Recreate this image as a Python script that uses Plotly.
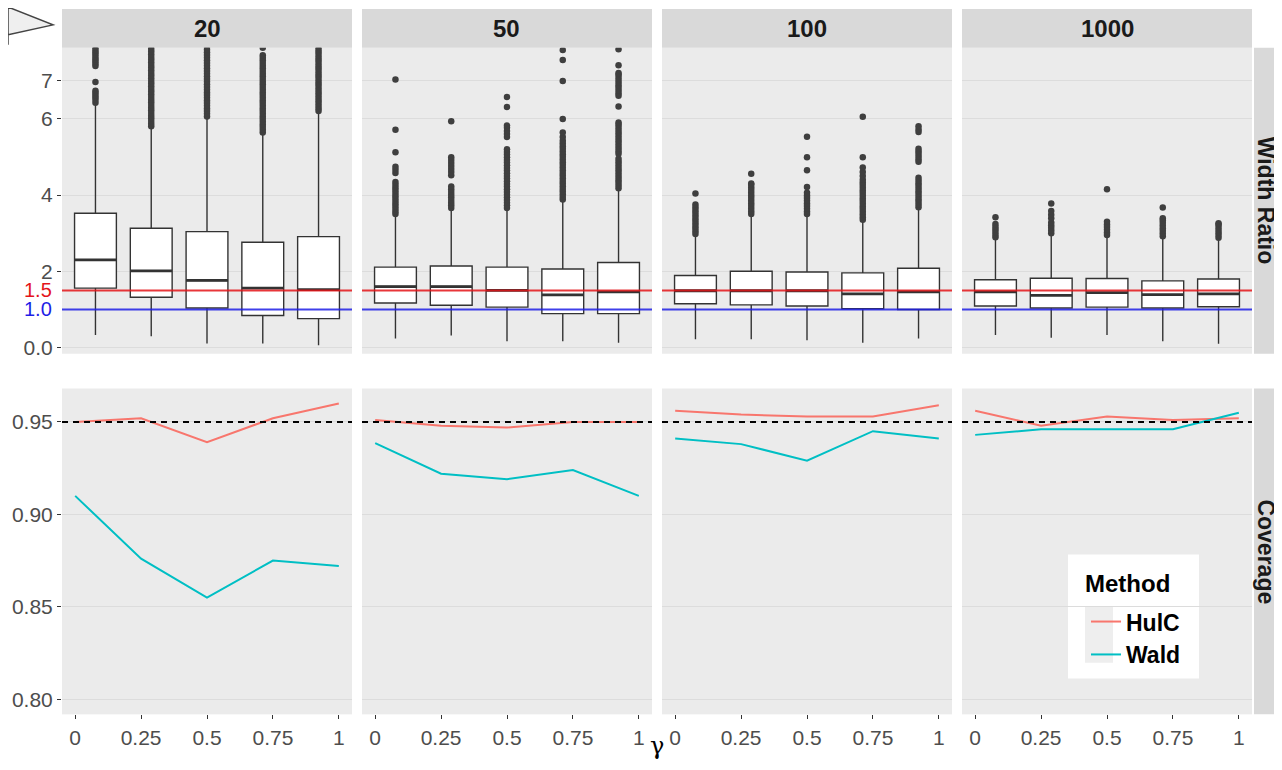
import plotly.graph_objects as go

# page is rendered with an 8px body margin; figure spans page pixels 8..1282 x 8..770
OFF = 8
W, H = 1282 - OFF, 770 - OFF

# ---------------- data ----------------
sample_sizes = ["20", "50", "100", "1000"]
gamma_values = [0, 0.25, 0.5, 0.75, 1]
gamma_labels = ["0", "0.25", "0.5", "0.75", "1"]
box_positions = [0, 1, 2, 3, 4]

# Width-ratio boxplot statistics, one row per sample size, one value per gamma
wr_lower = [[0.33, 0.30, 0.11, 0.11, 0.06],
            [0.24, 0.32, 0.17, 0.17, 0.13],
            [0.22, 0.22, 0.19, 0.13, 0.24],
            [0.33, 0.26, 0.33, 0.17, 0.10]]
wr_q1 = [[1.56, 1.32, 1.04, 0.84, 0.76],
         [1.17, 1.11, 1.06, 0.89, 0.89],
         [1.15, 1.12, 1.09, 1.02, 1.00],
         [1.09, 1.04, 1.06, 1.04, 1.07]]
wr_median = [[2.30, 2.01, 1.76, 1.56, 1.52],
             [1.60, 1.60, 1.50, 1.38, 1.46],
             [1.49, 1.49, 1.49, 1.41, 1.46],
             [1.46, 1.37, 1.44, 1.39, 1.41]]
wr_q3 = [[3.52, 3.13, 3.04, 2.76, 2.91],
         [2.11, 2.14, 2.11, 2.06, 2.23],
         [1.89, 2.00, 1.98, 1.96, 2.08],
         [1.78, 1.82, 1.81, 1.75, 1.80]]
wr_upper = [[6.40, 5.78, 6.04, 5.62, 6.18],
            [3.47, 3.65, 3.65, 3.86, 4.17],
            [2.97, 3.49, 3.49, 3.34, 3.67],
            [2.88, 3.00, 2.94, 2.91, 2.87]]

outliers_n20 = [
    [6.42, 6.5, 6.56, 6.62, 6.68, 6.73, 6.96, 7.38, 7.44, 7.5, 7.56, 7.62, 7.68, 7.74, 7.8, 7.86, 7.92],
    [5.8, 5.87, 5.94, 6.01, 6.08, 6.15, 6.22, 6.29, 6.36, 6.43, 6.5, 6.57, 6.64, 6.71, 6.78, 6.85, 6.92,
     6.99, 7.06, 7.13, 7.2, 7.27, 7.34, 7.41, 7.48, 7.55, 7.62, 7.69, 7.76, 7.83, 7.9],
    [6.06, 6.13, 6.2, 6.27, 6.34, 6.41, 6.48, 6.55, 6.62, 6.69, 6.76, 6.83, 6.9, 6.97, 7.04, 7.11, 7.18,
     7.25, 7.32, 7.39, 7.46, 7.53, 7.6, 7.67, 7.74, 7.81, 7.88],
    [5.64, 5.71, 5.78, 5.85, 5.92, 5.99, 6.06, 6.13, 6.2, 6.27, 6.34, 6.41, 6.48, 6.55, 6.62, 6.69, 6.76,
     6.83, 6.9, 6.97, 7.04, 7.11, 7.18, 7.25, 7.32, 7.39, 7.46, 7.53, 7.6, 7.66, 7.86],
    [6.2, 6.27, 6.34, 6.41, 6.48, 6.55, 6.62, 6.69, 6.76, 6.83, 6.9, 6.97, 7.04, 7.11, 7.18, 7.25, 7.32,
     7.39, 7.46, 7.53, 7.6, 7.67, 7.74, 7.81, 7.88],
]
outliers_n50 = [
    [3.5, 3.57, 3.64, 3.71, 3.78, 3.85, 3.92, 3.99, 4.06, 4.13, 4.2, 4.27, 4.34, 4.58, 4.66, 4.74, 5.12, 5.71, 7.03],
    [3.66, 3.73, 3.8, 3.87, 3.94, 4.01, 4.08, 4.15, 4.22, 4.52, 4.6, 4.68, 4.76, 4.84, 4.92, 4.99, 5.93],
    [3.66, 3.73, 3.8, 3.87, 3.94, 4.01, 4.08, 4.15, 4.22, 4.29, 4.36, 4.43, 4.5, 4.57, 4.64, 4.71, 4.78,
     4.85, 4.92, 4.99, 5.06, 5.13, 5.2, 5.52, 5.6, 5.68, 5.76, 5.82, 6.31, 6.57],
    [3.88, 3.95, 4.02, 4.09, 4.16, 4.23, 4.3, 4.37, 4.44, 4.51, 4.58, 4.65, 4.72, 4.79, 4.86, 4.93, 5.0,
     5.07, 5.14, 5.21, 5.28, 5.35, 5.42, 5.52, 5.64, 5.99, 6.99, 7.54, 7.8],
    [4.18, 4.25, 4.32, 4.39, 4.46, 4.53, 4.6, 4.67, 4.74, 4.81, 4.88, 4.95, 5.08, 5.15, 5.22, 5.29, 5.36,
     5.43, 5.5, 5.57, 5.64, 5.71, 5.78, 5.85, 5.9, 6.32, 6.6, 6.67, 6.74, 6.81, 6.88, 6.95, 7.02, 7.09,
     7.16, 7.2, 7.4, 7.82],
]
outliers_n100 = [
    [2.98, 3.05, 3.12, 3.19, 3.26, 3.33, 3.4, 3.47, 3.54, 3.61, 3.68, 3.75, 4.04],
    [3.5, 3.57, 3.64, 3.71, 3.78, 3.85, 3.92, 3.99, 4.06, 4.13, 4.2, 4.27, 4.3, 4.56],
    [3.5, 3.57, 3.64, 3.71, 3.78, 3.85, 3.92, 3.99, 4.06, 4.21, 4.65, 4.99, 5.53],
    [3.35, 3.42, 3.49, 3.56, 3.63, 3.7, 3.77, 3.84, 3.91, 3.98, 4.05, 4.12, 4.19, 4.26, 4.33, 4.4, 4.5,
     4.6, 4.72, 4.99, 6.05],
    [3.68, 3.75, 3.82, 3.89, 3.96, 4.03, 4.1, 4.17, 4.24, 4.31, 4.38, 4.45, 4.87, 4.94, 5.01, 5.08, 5.15,
     5.21, 5.65, 5.72, 5.8],
]
outliers_n1000 = [
    [2.89, 2.96, 3.03, 3.1, 3.17, 3.24, 3.42],
    [3.0, 3.07, 3.14, 3.21, 3.28, 3.39, 3.48, 3.58, 3.78],
    [2.95, 3.02, 3.09, 3.16, 3.23, 3.3, 4.15],
    [2.92, 2.99, 3.06, 3.13, 3.2, 3.27, 3.34, 3.39, 3.67],
    [2.88, 2.95, 3.02, 3.09, 3.16, 3.23, 3.26],
]
wr_outliers = [outliers_n20, outliers_n50, outliers_n100, outliers_n1000]

# Coverage by method
cov_hulc = [[0.950, 0.952, 0.939, 0.952, 0.960],
            [0.951, 0.948, 0.947, 0.950, 0.950],
            [0.956, 0.954, 0.953, 0.953, 0.959],
            [0.956, 0.948, 0.953, 0.951, 0.952]]
cov_wald = [[0.910, 0.876, 0.855, 0.875, 0.872],
            [0.9385, 0.922, 0.919, 0.924, 0.910],
            [0.941, 0.938, 0.929, 0.945, 0.941],
            [0.943, 0.946, 0.946, 0.946, 0.955]]
nominal_coverage = 0.95
ref_ratio_red = 1.5
ref_ratio_blue = 1.0

wr_ticks = [0, 2, 4, 6, 7]
wr_ticktext = ["0.0", "2", "4", "6", "7"]
cov_ticks = [0.80, 0.85, 0.90, 0.95]
cov_ticktext = ["0.80", "0.85", "0.90", "0.95"]

# ---------------- layout helpers (page pixel -> paper) ----------------
col_px = [(62, 352), (362, 652), (662, 952), (962, 1252)]
row_px = [(48, 356), (391, 719)]


def px_x(x):
    return (x - OFF) / W


def px_y(y):
    return 1 - (y - OFF) / H


FONT = "Liberation Sans, Arial, sans-serif"
TICK_FONT = dict(family=FONT, size=21, color="#4D4D4D")
STRIP_FONT = dict(family=FONT, size=24, color="#1A1A1A")
RSTRIP_FONT = dict(family=FONT, size=23, color="#1A1A1A")
HULC_COL = "#F8766D"
WALD_COL = "#00BFC4"
BOX_COL = "#333333"
GRID_COL = "#DCDCDC"

fig = go.Figure()
layout = {}
shapes = []
annotations = []

for c in range(4):
    top = c + 1
    bot = c + 5
    xd = [px_x(col_px[c][0]), px_x(col_px[c][1])]
    layout[f"xaxis{top}"] = dict(domain=xd, anchor=f"y{top}", range=[-0.6, 4.6], showticklabels=False,
                                 ticks="", showgrid=False, zeroline=False, fixedrange=True)
    layout[f"yaxis{top}"] = dict(domain=[px_y(row_px[0][1]), px_y(row_px[0][0])], anchor=f"x{top}",
                                 range=[-0.16, 7.86], tickvals=wr_ticks, ticktext=wr_ticktext,
                                 showticklabels=(c == 0), ticks="outside" if c == 0 else "",
                                 ticklen=4, tickcolor="#333333", tickfont=TICK_FONT,
                                 showgrid=True, gridcolor=GRID_COL, gridwidth=1, zeroline=False)
    layout[f"xaxis{bot}"] = dict(domain=xd, anchor=f"y{bot}", range=[-0.05, 1.05], tickvals=gamma_values,
                                 ticktext=gamma_labels, ticks="outside", ticklen=4, tickcolor="#333333",
                                 tickfont=TICK_FONT, showgrid=False, zeroline=False)
    layout[f"yaxis{bot}"] = dict(domain=[px_y(row_px[1][1]), px_y(row_px[1][0])], anchor=f"x{bot}",
                                 range=[0.7918, 0.9681], tickvals=cov_ticks, ticktext=cov_ticktext,
                                 showticklabels=(c == 0), ticks="outside" if c == 0 else "",
                                 ticklen=4, tickcolor="#333333", tickfont=TICK_FONT,
                                 showgrid=True, gridcolor=GRID_COL, gridwidth=1, zeroline=False)

    # ---- boxplots ----
    for i in range(5):
        fig.add_trace(go.Box(
            x=[box_positions[i]], q1=[wr_q1[c][i]], median=[wr_median[c][i]], q3=[wr_q3[c][i]],
            lowerfence=[wr_lower[c][i]], upperfence=[wr_upper[c][i]], boxpoints=False,
            width=0.75, whiskerwidth=0, fillcolor="white", line=dict(color=BOX_COL, width=1.4),
            xaxis=f"x{top}", yaxis=f"y{top}", showlegend=False, hoverinfo="skip"))
    mx, my = [], []
    for i in range(5):
        mx += [box_positions[i] - 0.375, box_positions[i] + 0.375, None]
        my += [wr_median[c][i], wr_median[c][i], None]
    fig.add_trace(go.Scatter(x=mx, y=my, mode="lines", line=dict(color=BOX_COL, width=2.8),
                             xaxis=f"x{top}", yaxis=f"y{top}", showlegend=False, hoverinfo="skip"))
    ox, oy = [], []
    for i in range(5):
        ox += [box_positions[i]] * len(wr_outliers[c][i])
        oy += wr_outliers[c][i]
    fig.add_trace(go.Scatter(x=ox, y=oy, mode="markers", marker=dict(color="#3F3F3F", size=6.5),
                             xaxis=f"x{top}", yaxis=f"y{top}", showlegend=False, hoverinfo="skip"))
    fig.add_trace(go.Scatter(x=[-0.6, 4.6], y=[ref_ratio_red] * 2, mode="lines",
                             line=dict(color="rgba(228,20,24,0.85)", width=2),
                             xaxis=f"x{top}", yaxis=f"y{top}", showlegend=False, hoverinfo="skip"))
    fig.add_trace(go.Scatter(x=[-0.6, 4.6], y=[ref_ratio_blue] * 2, mode="lines",
                             line=dict(color="rgba(30,30,230,0.85)", width=2),
                             xaxis=f"x{top}", yaxis=f"y{top}", showlegend=False, hoverinfo="skip"))

    # ---- coverage lines ----
    fig.add_trace(go.Scatter(x=gamma_values, y=cov_hulc[c], mode="lines", name="HulC",
                             line=dict(color=HULC_COL, width=2), legendgroup="HulC",
                             showlegend=(c == 0), xaxis=f"x{bot}", yaxis=f"y{bot}"))
    fig.add_trace(go.Scatter(x=gamma_values, y=cov_wald[c], mode="lines", name="Wald",
                             line=dict(color=WALD_COL, width=2), legendgroup="Wald",
                             showlegend=(c == 0), xaxis=f"x{bot}", yaxis=f"y{bot}"))
    fig.add_trace(go.Scatter(x=[-0.05, 1.05], y=[nominal_coverage] * 2, mode="lines",
                             line=dict(color="black", width=2, dash="6px,5px"),
                             xaxis=f"x{bot}", yaxis=f"y{bot}", showlegend=False, hoverinfo="skip"))

    shapes.append(dict(type="rect", xref="paper", yref="paper", x0=xd[0], x1=xd[1],
                       y0=px_y(48), y1=px_y(9), fillcolor="#D9D9D9", line=dict(width=0), layer="below"))
    annotations.append(dict(text=f"<b>{sample_sizes[c]}</b>", xref="paper", yref="paper",
                            x=(xd[0] + xd[1]) / 2, y=px_y(28.5), showarrow=False, font=STRIP_FONT,
                            xanchor="center", yanchor="middle"))

for (y0, y1), label in zip(row_px, ["Width Ratio", "Coverage"]):
    shapes.append(dict(type="rect", xref="paper", yref="paper", x0=px_x(1254), x1=px_x(1282),
                       y0=px_y(y1), y1=px_y(y0), fillcolor="#D9D9D9", line=dict(width=0), layer="below"))
    annotations.append(dict(text=f"<b>{label}</b>", xref="paper", yref="paper",
                            x=px_x(1266), y=px_y((y0 + y1) / 2), showarrow=False, textangle=90,
                            font=RSTRIP_FONT, xanchor="center", yanchor="middle"))

annotations.append(dict(text="1.5", xref="paper", yref="y1", x=px_x(54), y=ref_ratio_red,
                        showarrow=False, xanchor="right", yanchor="middle",
                        font=dict(family=FONT, size=20, color="#E4141A")))
annotations.append(dict(text="1.0", xref="paper", yref="y1", x=px_x(54), y=ref_ratio_blue,
                        showarrow=False, xanchor="right", yanchor="middle",
                        font=dict(family=FONT, size=20, color="#1E1EE6")))

annotations.append(dict(text="γ", xref="paper", yref="paper", x=px_x(657), y=px_y(751),
                        showarrow=False, xanchor="center", yanchor="middle",
                        font=dict(family="DejaVu Serif, serif", size=24, color="black")))

# legend box, title and key background
shapes.append(dict(type="rect", xref="paper", yref="paper", x0=px_x(1068), x1=px_x(1199),
                   y0=px_y(683), y1=px_y(558), fillcolor="white", line=dict(width=0), layer="below"))
shapes.append(dict(type="rect", xref="paper", yref="paper", x0=px_x(1085), x1=px_x(1113),
                   y0=px_y(667), y1=px_y(611), fillcolor="#EEEEEE", line=dict(width=0), layer="below"))
annotations.append(dict(text="<b>Method</b>", xref="paper", yref="paper", x=px_x(1083), y=px_y(587),
                        showarrow=False, xanchor="left", yanchor="middle",
                        font=dict(family=FONT, size=24, color="black")))

# callout artifact in the top-left corner
pts = [(OFF, OFF), (OFF, 7), (53, 25), (8, 35), (OFF, 45)]
path = "M " + " L ".join(f"{px_x(x):.5f},{px_y(y):.5f}" for x, y in pts) + " Z"
shapes.append(dict(type="path", xref="paper", yref="paper", path=path, fillcolor="#EFEFEF",
                   line=dict(color="#444444", width=1.5), layer="above"))

layout.update(dict(
    width=W, height=H, margin=dict(l=0, r=0, t=0, b=0),
    paper_bgcolor="white", plot_bgcolor="#EBEBEB",
    shapes=shapes, annotations=annotations,
    showlegend=True,
    legend=dict(x=px_x(1086), y=px_y(604), xanchor="left", yanchor="top",
                bgcolor="rgba(0,0,0,0)",
                font=dict(family=FONT, size=23, color="black", weight="bold"),
                itemwidth=30, tracegroupgap=0),
))
fig.update_layout(layout)
fig.write_html("out.html")
